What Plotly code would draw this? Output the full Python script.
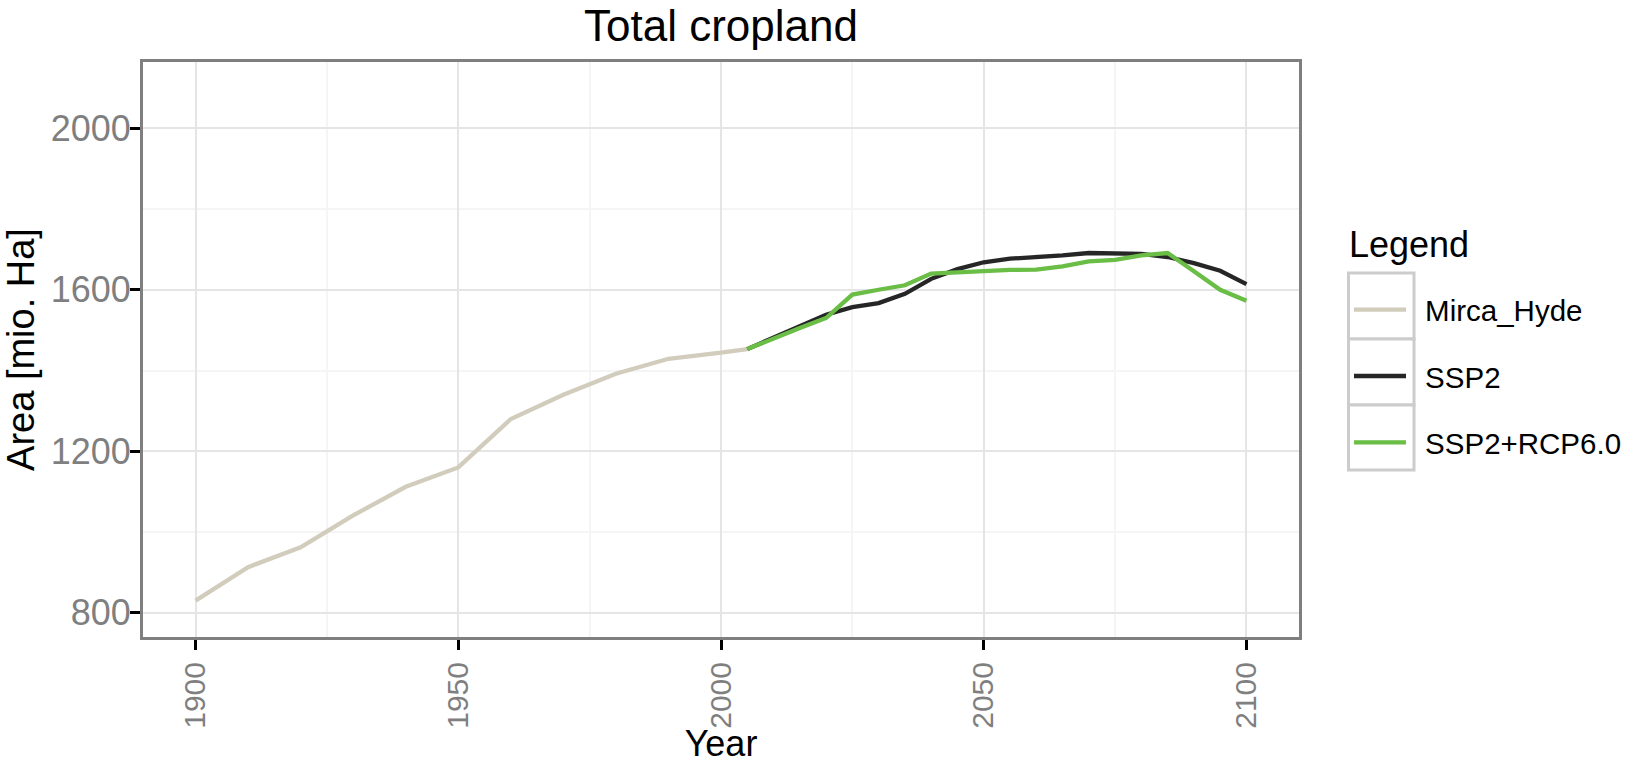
import plotly.graph_objects as go

# ---------------- data ----------------
hist_years = [1900, 1910, 1920, 1930, 1940, 1950, 1960, 1970, 1980, 1990, 2000, 2005]
hist_area = [830, 913, 962, 1041, 1112, 1160, 1280, 1340, 1392, 1429, 1444, 1453]

proj_years = [2005, 2010, 2015, 2020, 2025, 2030, 2035, 2040, 2045, 2050, 2055,
              2060, 2065, 2070, 2075, 2080, 2085, 2090, 2095, 2100]
ssp2_area = [1453, 1482, 1511, 1538, 1557, 1567, 1590, 1627, 1651, 1668, 1677,
             1680, 1685, 1691, 1691, 1689, 1681, 1666, 1647, 1614]
rcp60_area = [1453, 1480, 1505, 1530, 1588, 1600, 1611, 1640, 1643, 1648, 1649,
              1650, 1658, 1670, 1674, 1685, 1691, 1646, 1600, 1573]

series_names = ["Mirca_Hyde", "SSP2", "SSP2+RCP6.0"]
series_colors = ["#d1ccbc", "#262626", "#6abd45"]

x_ticks = [1900, 1950, 2000, 2050, 2100]
y_ticks = [800, 1200, 1600, 2000]

FONT = "Liberation Sans, Arial, Helvetica, sans-serif"

fig = go.Figure()
for name, xs, ys, col in zip(series_names,
                             [hist_years, proj_years, proj_years],
                             [hist_area, ssp2_area, rcp60_area],
                             series_colors):
    fig.add_trace(go.Scatter(x=xs, y=ys, mode="lines",
                             name="\u00a0\u2009" + name,
                             legendgroup=name,
                             line=dict(color=col, width=4.3)))

W, H = 1627, 764
L, R, T, B = 143, 328, 62, 127

def px_x(p):
    return (p - L) / (W - L - R)

def px_y(p):
    return (H - B - p) / (H - T - B)

# legend key boxes (ggplot style)
box_left, box_right = 1348.5, 1414
box_edges = [273, 339, 405, 470]
shapes = []
for i in range(3):
    shapes.append(dict(type="rect", xref="paper", yref="paper",
                       x0=px_x(box_left), x1=px_x(box_right),
                       y0=px_y(box_edges[i + 1]), y1=px_y(box_edges[i]),
                       line=dict(color="#cccccc", width=3),
                       fillcolor="white", layer="below"))

fig.update_layout(
    width=W, height=H,
    margin=dict(l=L, r=R, t=T, b=B, autoexpand=False),
    paper_bgcolor="white", plot_bgcolor="white",
    font=dict(family=FONT, color="black"),
    title=dict(text="Total cropland", x=px_x((L + W - R) / 2), xref="paper",
               xanchor="center", y=1 - 10 / H, yref="container", yanchor="top",
               font=dict(size=44, color="black")),
    showlegend=True,
    legend=dict(x=px_x(1349), y=px_y(284), xanchor="left", yanchor="top",
                font=dict(size=29.5, color="black"),
                itemwidth=52, tracegroupgap=25,
                bgcolor="rgba(0,0,0,0)"),
    shapes=shapes,
    annotations=[dict(text="Legend", xref="paper", yref="paper",
                      x=px_x(1347), y=px_y(244), xanchor="left", yanchor="middle",
                      showarrow=False, font=dict(size=36, color="black"))],
)

fig.update_xaxes(range=[1890, 2110], tickvals=x_ticks, tickangle=-90,
                 tickfont=dict(size=30, color="#7f7f7f"),
                 ticks="outside", ticklen=10, tickwidth=3, tickcolor="black",
                 showgrid=True, gridcolor="#e5e5e5", gridwidth=2,
                 minor=dict(dtick=25, tick0=1900, showgrid=True,
                            gridcolor="#f5f5f5", gridwidth=2, ticks=""),
                 showline=True, linecolor="#7f7f7f", linewidth=3, mirror=True,
                 zeroline=False, automargin=False,
                 title=dict(text="Year", font=dict(size=36, color="black"),
                            standoff=6))
fig.update_yaxes(range=[740, 2164], tickvals=y_ticks,
                 tickfont=dict(size=36, color="#7f7f7f"),
                 ticks="outside", ticklen=10, tickwidth=3, tickcolor="black",
                 ticklabelstandoff=-8,
                 showgrid=True, gridcolor="#e5e5e5", gridwidth=2,
                 minor=dict(dtick=200, tick0=800, showgrid=True,
                            gridcolor="#f5f5f5", gridwidth=2, ticks=""),
                 showline=True, linecolor="#7f7f7f", linewidth=3, mirror=True,
                 zeroline=False, automargin=False,
                 title=dict(text="Area [mio. Ha]", font=dict(size=38, color="black"),
                            standoff=16))

fig.write_html("out.html")
